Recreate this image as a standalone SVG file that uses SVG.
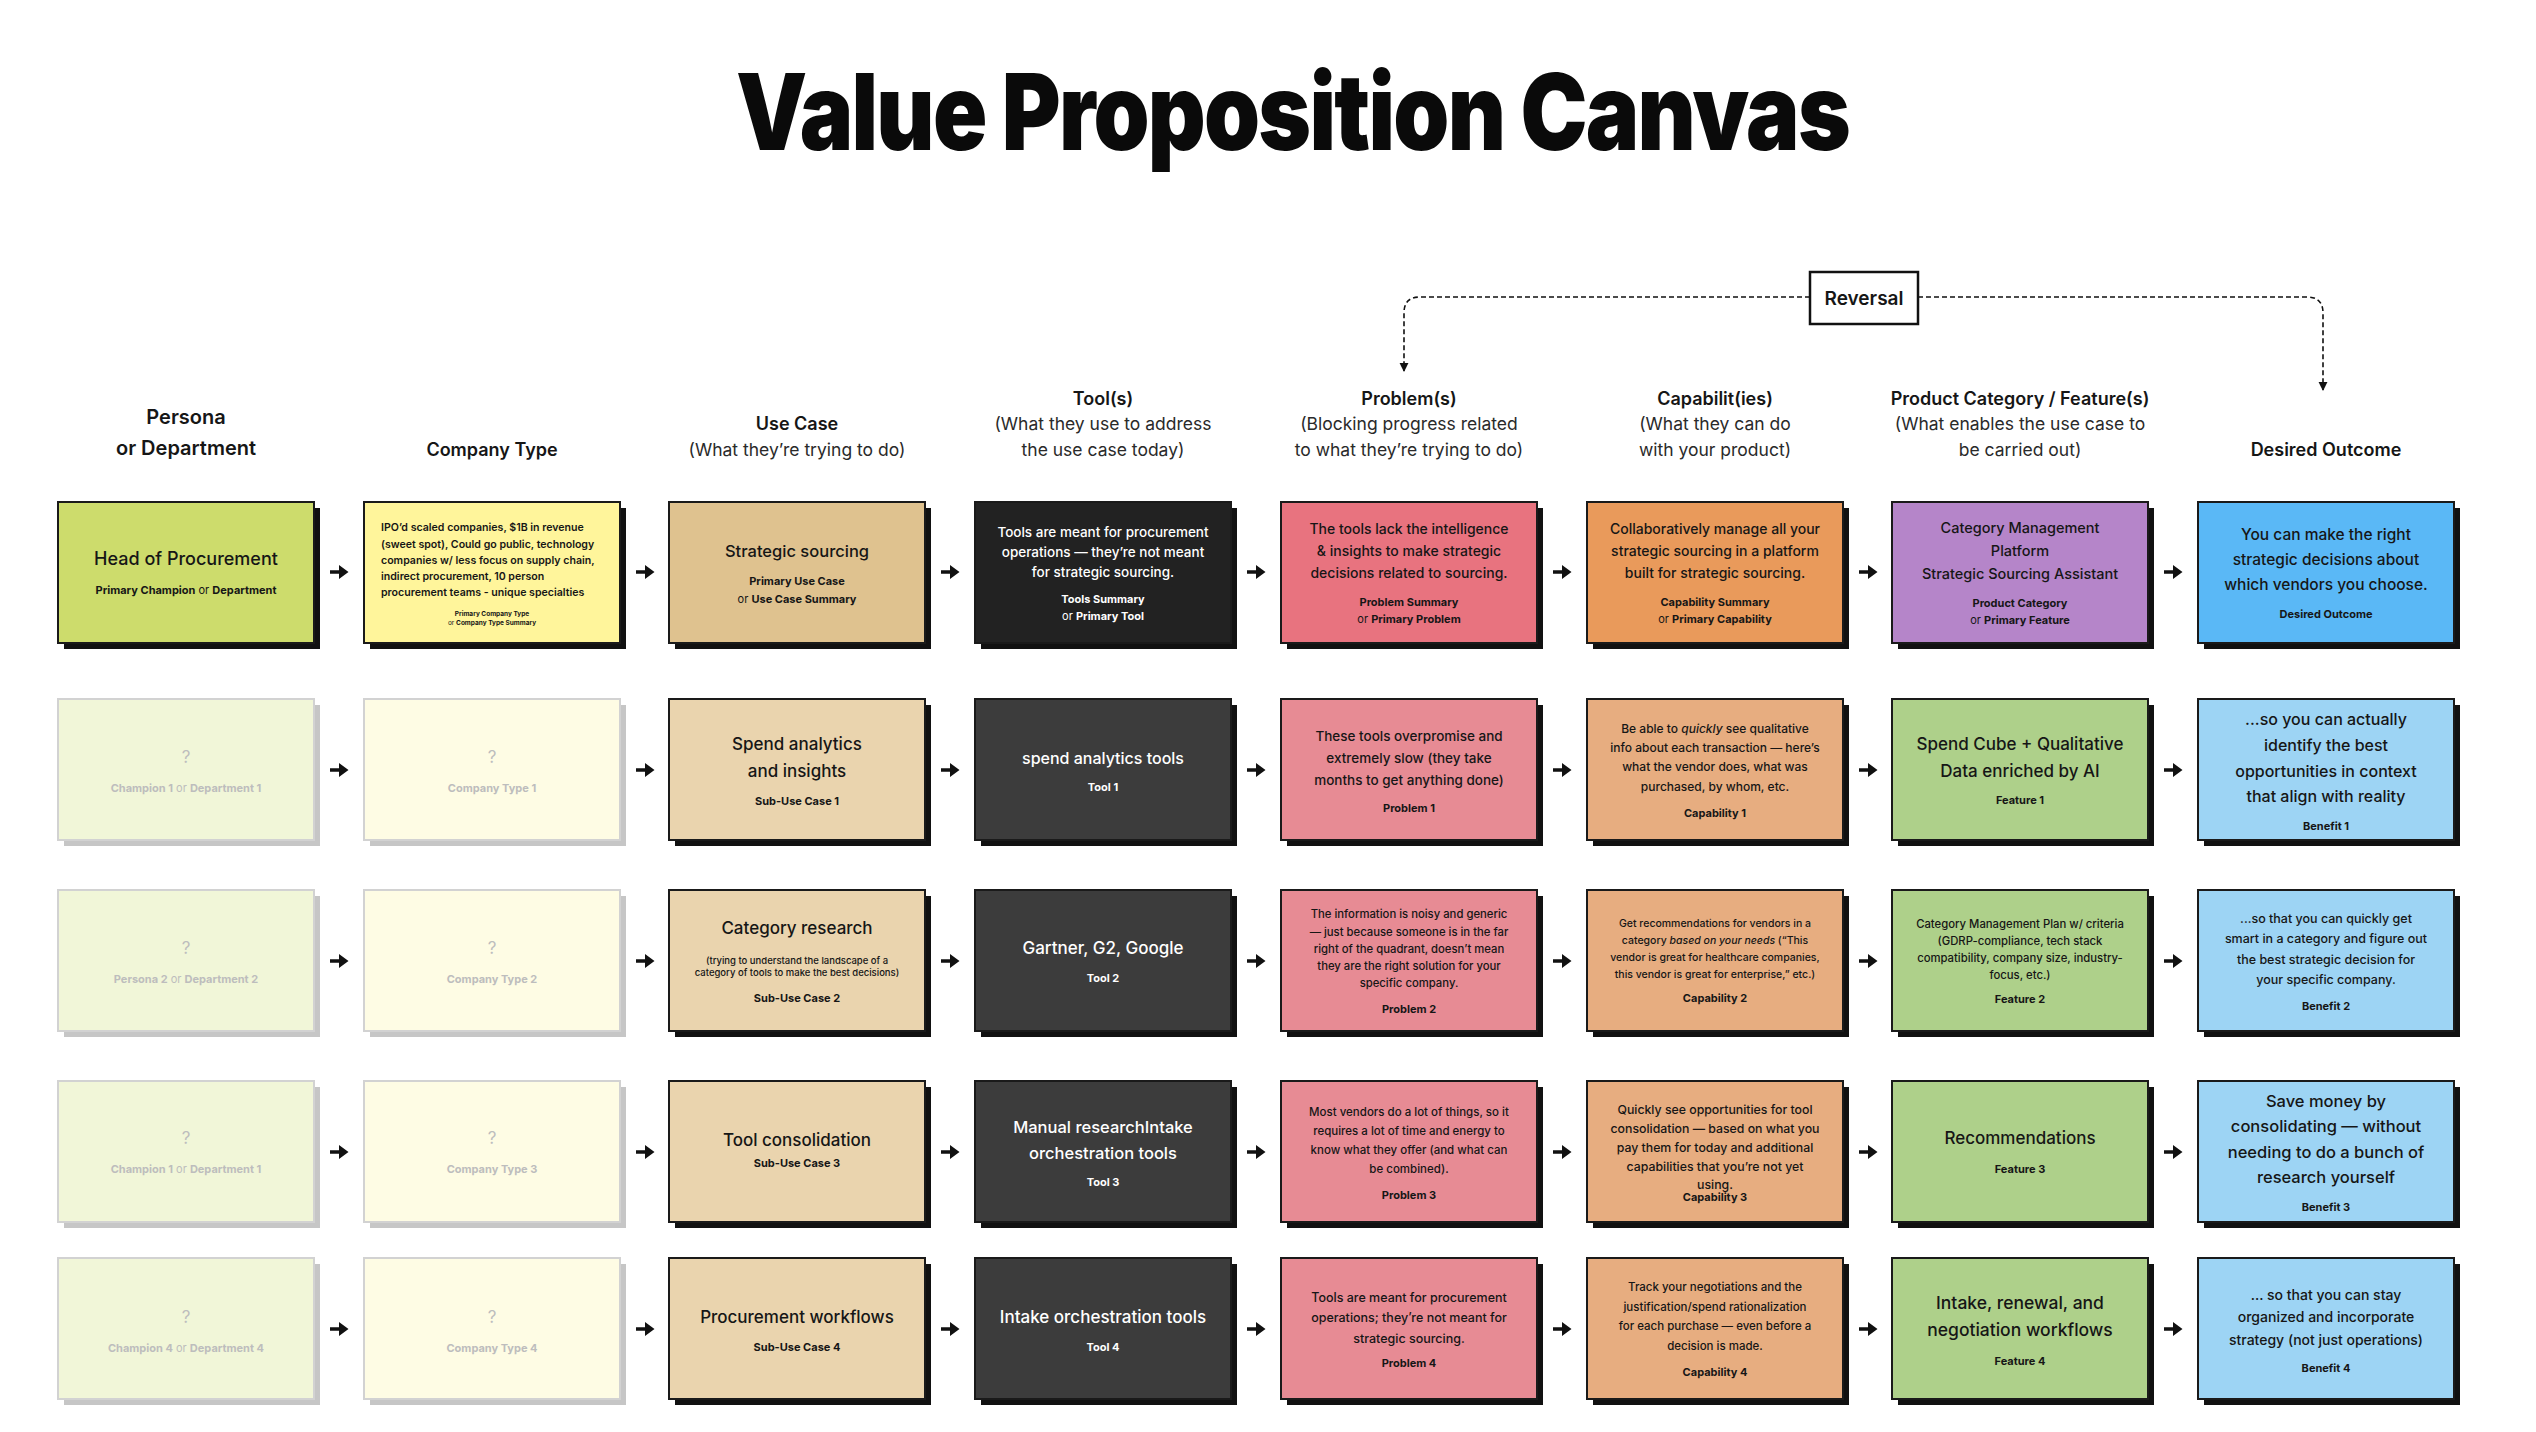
<svg xmlns="http://www.w3.org/2000/svg" width="2536" height="1432" viewBox="0 0 2536 1432">
<style>
text { font-family: Inter, "Liberation Sans", sans-serif; }
.c { text-anchor: middle; fill: #161616; }
.m { font-weight: 500; }
.b { font-weight: 700; }
.sb { font-weight: 600; }
.o { font-weight: 400; }
.w { fill: #ffffff; }
.g { fill: #bdbdbd; }
.sh { fill: #111111; }
.fsh { fill: #c6c6c6; }
.cd { stroke: #1a1a1a; stroke-width: 2; }
.fcd { stroke: #d2d2d2; stroke-width: 2; }
.hd { font-size: 18px; font-weight: 600; }
.hp { font-size: 17.5px; font-weight: 400; fill: #2a2a2a; }
.lbl { font-size: 11px; font-weight: 700; }
.dash { fill: none; stroke: #111; stroke-width: 1.6; stroke-dasharray: 5 3; }
</style>
<defs>
<path id="a" d="M-9,-1.8 H0 V-7 L9.5,0 L0,7 V1.8 H-9 Z" fill="#111"/>
<marker id="ah" viewBox="0 0 10 10" refX="9" refY="5" markerWidth="9" markerHeight="10" markerUnits="userSpaceOnUse" orient="auto"><path d="M0,0 L10,5 L0,10 z" fill="#111"/></marker>
</defs>
<rect width="2536" height="1432" fill="#ffffff"/>

<text id="title" x="736" y="150" font-size="106" font-weight="900" letter-spacing="-2" textLength="1113" lengthAdjust="spacingAndGlyphs" fill="#0a0a0a">Value Proposition Canvas</text>

<g id="headers">
<text class="c" x="186" y="424" font-size="20" font-weight="600">Persona</text>
<text class="c" x="186" y="455" font-size="20" font-weight="600">or Department</text>
<text class="c hd" x="492" y="456">Company Type</text>
<text class="c hd" x="797" y="430">Use Case</text>
<text class="c hp" x="797" y="456">(What they’re trying to do)</text>
<text class="c hd" x="1103" y="405">Tool(s)</text>
<text class="c hp" x="1103" y="430">(What they use to address</text>
<text class="c hp" x="1103" y="456">the use case today)</text>
<text class="c hd" x="1409" y="405">Problem(s)</text>
<text class="c hp" x="1409" y="430">(Blocking progress related</text>
<text class="c hp" x="1409" y="456">to what they’re trying to do)</text>
<text class="c hd" x="1715" y="405">Capabilit(ies)</text>
<text class="c hp" x="1715" y="430">(What they can do</text>
<text class="c hp" x="1715" y="456">with your product)</text>
<text class="c hd" x="2020" y="405">Product Category / Feature(s)</text>
<text class="c hp" x="2020" y="430">(What enables the use case to</text>
<text class="c hp" x="2020" y="456">be carried out)</text>
<text class="c hd" x="2326" y="456">Desired Outcome</text>
</g>

<g id="reversal">
<rect x="1810" y="272" width="108" height="52" fill="#ffffff" stroke="#111" stroke-width="2.5"/>
<text class="c" x="1864" y="305" font-size="19" font-weight="600">Reversal</text>
</g>

<g id="connectors">
<path class="dash" d="M1810,297 H1420 Q1404,297 1404,313 V371" marker-end="url(#ah)"/>
<path class="dash" d="M1918,297 H2307 Q2323,297 2323,313 V390" marker-end="url(#ah)"/>
<use href="#a" x="339" y="572"/><use href="#a" x="645" y="572"/><use href="#a" x="950" y="572"/><use href="#a" x="1256" y="572"/><use href="#a" x="1562" y="572"/><use href="#a" x="1868" y="572"/><use href="#a" x="2173" y="572"/>
<use href="#a" x="339" y="770"/><use href="#a" x="645" y="770"/><use href="#a" x="950" y="770"/><use href="#a" x="1256" y="770"/><use href="#a" x="1562" y="770"/><use href="#a" x="1868" y="770"/><use href="#a" x="2173" y="770"/>
<use href="#a" x="339" y="961"/><use href="#a" x="645" y="961"/><use href="#a" x="950" y="961"/><use href="#a" x="1256" y="961"/><use href="#a" x="1562" y="961"/><use href="#a" x="1868" y="961"/><use href="#a" x="2173" y="961"/>
<use href="#a" x="339" y="1152"/><use href="#a" x="645" y="1152"/><use href="#a" x="950" y="1152"/><use href="#a" x="1256" y="1152"/><use href="#a" x="1562" y="1152"/><use href="#a" x="1868" y="1152"/><use href="#a" x="2173" y="1152"/>
<use href="#a" x="339" y="1329"/><use href="#a" x="645" y="1329"/><use href="#a" x="950" y="1329"/><use href="#a" x="1256" y="1329"/><use href="#a" x="1562" y="1329"/><use href="#a" x="1868" y="1329"/><use href="#a" x="2173" y="1329"/>
</g>

<!-- Row 1 -->
<g id="r1c1">
<rect class="sh" x="64" y="508" width="256" height="141"/>
<rect class="cd" x="58" y="502" width="256" height="141" fill="#cddc6c"/>
<text class="c m" x="186" y="565" font-size="18">Head of Procurement</text>
<text class="c lbl" x="186" y="594"><tspan>Primary Champion</tspan><tspan class="o"> or </tspan><tspan>Department</tspan></text>
</g>
<g id="r1c2">
<rect class="sh" x="370" y="508" width="256" height="141"/>
<rect class="cd" x="364" y="502" width="256" height="141" fill="#fff59b"/>
<text x="381" font-size="10.6" font-weight="600" fill="#161616"><tspan x="381" y="531">IPO’d scaled companies, $1B in revenue</tspan><tspan x="381" y="548">(sweet spot), Could go public, technology</tspan><tspan x="381" y="564">companies w/ less focus on supply chain,</tspan><tspan x="381" y="580">indirect procurement, 10 person</tspan><tspan x="381" y="596">procurement teams - unique specialties</tspan></text>
<text class="c b" x="492" y="616" font-size="6.5">Primary Company Type</text>
<text class="c b" x="492" y="624.5" font-size="6.5"><tspan class="o">or </tspan>Company Type Summary</text>
</g>
<g id="r1c3">
<rect class="sh" x="675" y="508" width="256" height="141"/>
<rect class="cd" x="669" y="502" width="256" height="141" fill="#dfc28f"/>
<text class="c m" x="797" y="557" font-size="16.5">Strategic sourcing</text>
<text class="c lbl" x="797" y="585" font-size="11.5">Primary Use Case</text>
<text class="c lbl" x="797" y="603" font-size="11.5"><tspan class="o">or </tspan>Use Case Summary</text>
</g>
<g id="r1c4">
<rect class="sh" x="981" y="508" width="256" height="141"/>
<rect class="cd" x="975" y="502" width="256" height="141" fill="#222222"/>
<text class="c m w" x="1103" y="537" font-size="13.5">Tools are meant for procurement</text>
<text class="c m w" x="1103" y="557" font-size="13.5">operations — they’re not meant</text>
<text class="c m w" x="1103" y="577" font-size="13.5">for strategic sourcing.</text>
<text class="c lbl w" x="1103" y="603">Tools Summary</text>
<text class="c lbl w" x="1103" y="620"><tspan class="o">or </tspan>Primary Tool</text>
</g>
<g id="r1c5">
<rect class="sh" x="1287" y="508" width="256" height="141"/>
<rect class="cd" x="1281" y="502" width="256" height="141" fill="#e8737f"/>
<text class="c m" x="1409" y="534" font-size="14">The tools lack the intelligence</text>
<text class="c m" x="1409" y="556" font-size="14">&amp; insights to make strategic</text>
<text class="c m" x="1409" y="578" font-size="14">decisions related to sourcing.</text>
<text class="c lbl" x="1409" y="606">Problem Summary</text>
<text class="c lbl" x="1409" y="623"><tspan class="o">or </tspan>Primary Problem</text>
</g>
<g id="r1c6">
<rect class="sh" x="1593" y="508" width="256" height="141"/>
<rect class="cd" x="1587" y="502" width="256" height="141" fill="#e99a5b"/>
<text class="c m" x="1715" y="534" font-size="14">Collaboratively manage all your</text>
<text class="c m" x="1715" y="556" font-size="14">strategic sourcing in a platform</text>
<text class="c m" x="1715" y="578" font-size="14">built for strategic sourcing.</text>
<text class="c lbl" x="1715" y="606">Capability Summary</text>
<text class="c lbl" x="1715" y="623"><tspan class="o">or </tspan>Primary Capability</text>
</g>
<g id="r1c7">
<rect class="sh" x="1898" y="508" width="256" height="141"/>
<rect class="cd" x="1892" y="502" width="256" height="141" fill="#b585c9"/>
<text class="c m" x="2020" y="533" font-size="14.5">Category Management</text>
<text class="c m" x="2020" y="556" font-size="14.5">Platform</text>
<text class="c m" x="2020" y="579" font-size="14.5">Strategic Sourcing Assistant</text>
<text class="c lbl" x="2020" y="607">Product Category</text>
<text class="c lbl" x="2020" y="624"><tspan class="o">or </tspan>Primary Feature</text>
</g>
<g id="r1c8">
<rect class="sh" x="2204" y="508" width="256" height="141"/>
<rect class="cd" x="2198" y="502" width="256" height="141" fill="#5ab8f6"/>
<text class="c m" x="2326" y="540" font-size="15.5">You can make the right</text>
<text class="c m" x="2326" y="565" font-size="15.5">strategic decisions about</text>
<text class="c m" x="2326" y="590" font-size="15.5">which vendors you choose.</text>
<text class="c lbl" x="2326" y="618">Desired Outcome</text>
</g>

<!-- Row 2 -->
<g id="r2c1">
<rect class="fsh" x="64" y="705" width="256" height="141"/>
<rect class="fcd" x="58" y="699" width="256" height="141" fill="#f1f6d8"/>
<text class="c g" x="186" y="763" font-size="17">?</text>
<text class="c lbl g" x="186" y="792">Champion 1<tspan class="o"> or </tspan>Department 1</text>
</g>
<g id="r2c2">
<rect class="fsh" x="370" y="705" width="256" height="141"/>
<rect class="fcd" x="364" y="699" width="256" height="141" fill="#fefce4"/>
<text class="c g" x="492" y="763" font-size="17">?</text>
<text class="c lbl g" x="492" y="792">Company Type 1</text>
</g>
<g id="r2c3">
<rect class="sh" x="675" y="705" width="256" height="141"/>
<rect class="cd" x="669" y="699" width="256" height="141" fill="#ead4ae"/>
<text class="c m" x="797" y="750" font-size="17">Spend analytics</text>
<text class="c m" x="797" y="777" font-size="17">and insights</text>
<text class="c lbl" x="797" y="805" font-size="10.5">Sub-Use Case 1</text>
</g>
<g id="r2c4">
<rect class="sh" x="981" y="705" width="256" height="141"/>
<rect class="cd" x="975" y="699" width="256" height="141" fill="#3c3c3c"/>
<text class="c m w" x="1103" y="764" font-size="16">spend analytics tools</text>
<text class="c lbl w" x="1103" y="791" font-size="10.5">Tool 1</text>
</g>
<g id="r2c5">
<rect class="sh" x="1287" y="705" width="256" height="141"/>
<rect class="cd" x="1281" y="699" width="256" height="141" fill="#e78b94"/>
<text class="c m" x="1409" y="741" font-size="13.5">These tools overpromise and</text>
<text class="c m" x="1409" y="763" font-size="13.5">extremely slow (they take</text>
<text class="c m" x="1409" y="785" font-size="13.5">months to get anything done)</text>
<text class="c lbl" x="1409" y="812" font-size="10.5">Problem 1</text>
</g>
<g id="r2c6">
<rect class="sh" x="1593" y="705" width="256" height="141"/>
<rect class="cd" x="1587" y="699" width="256" height="141" fill="#e7ad80"/>
<text class="c m" x="1715" y="733" font-size="12">Be able to <tspan font-style="italic">quickly</tspan> see qualitative</text>
<text class="c m" x="1715" y="752" font-size="12">info about each transaction — here’s</text>
<text class="c m" x="1715" y="771" font-size="12">what the vendor does, what was</text>
<text class="c m" x="1715" y="791" font-size="12">purchased, by whom, etc.</text>
<text class="c lbl" x="1715" y="817" font-size="10.5">Capability 1</text>
</g>
<g id="r2c7">
<rect class="sh" x="1898" y="705" width="256" height="141"/>
<rect class="cd" x="1892" y="699" width="256" height="141" fill="#aed08a"/>
<text class="c m" x="2020" y="750" font-size="17">Spend Cube + Qualitative</text>
<text class="c m" x="2020" y="777" font-size="17">Data enriched by AI</text>
<text class="c lbl" x="2020" y="804" font-size="10.5">Feature 1</text>
</g>
<g id="r2c8">
<rect class="sh" x="2204" y="705" width="256" height="141"/>
<rect class="cd" x="2198" y="699" width="256" height="141" fill="#9dd4f4"/>
<text class="c m" x="2326" y="725" font-size="16">...so you can actually</text>
<text class="c m" x="2326" y="751" font-size="16">identify the best</text>
<text class="c m" x="2326" y="777" font-size="16">opportunities in context</text>
<text class="c m" x="2326" y="802" font-size="16">that align with reality</text>
<text class="c lbl" x="2326" y="830" font-size="10.5">Benefit 1</text>
</g>

<!-- Row 3 -->
<g id="r3c1">
<rect class="fsh" x="64" y="896" width="256" height="141"/>
<rect class="fcd" x="58" y="890" width="256" height="141" fill="#f1f6d8"/>
<text class="c g" x="186" y="954" font-size="17">?</text>
<text class="c lbl g" x="186" y="983">Persona 2<tspan class="o"> or </tspan>Department 2</text>
</g>
<g id="r3c2">
<rect class="fsh" x="370" y="896" width="256" height="141"/>
<rect class="fcd" x="364" y="890" width="256" height="141" fill="#fefce4"/>
<text class="c g" x="492" y="954" font-size="17">?</text>
<text class="c lbl g" x="492" y="983">Company Type 2</text>
</g>
<g id="r3c3">
<rect class="sh" x="675" y="896" width="256" height="141"/>
<rect class="cd" x="669" y="890" width="256" height="141" fill="#ead4ae"/>
<text class="c m" x="797" y="934" font-size="17">Category research</text>
<text class="c m" x="797" y="963.5" font-size="9.5">(trying to understand the landscape of a</text>
<text class="c m" x="797" y="975.5" font-size="9.5">category of tools to make the best decisions)</text>
<text class="c lbl" x="797" y="1002" font-size="12">Sub-Use Case 2</text>
</g>
<g id="r3c4">
<rect class="sh" x="981" y="896" width="256" height="141"/>
<rect class="cd" x="975" y="890" width="256" height="141" fill="#3c3c3c"/>
<text class="c m w" x="1103" y="954" font-size="17">Gartner, G2, Google</text>
<text class="c lbl w" x="1103" y="982" font-size="10.5">Tool 2</text>
</g>
<g id="r3c5">
<rect class="sh" x="1287" y="896" width="256" height="141"/>
<rect class="cd" x="1281" y="890" width="256" height="141" fill="#e78b94"/>
<text class="c m" x="1409" y="918" font-size="11.3">The information is noisy and generic</text>
<text class="c m" x="1409" y="935.5" font-size="11.3">— just because someone is in the far</text>
<text class="c m" x="1409" y="952.5" font-size="11.3">right of the quadrant, doesn’t mean</text>
<text class="c m" x="1409" y="969.5" font-size="11.3">they are the right solution for your</text>
<text class="c m" x="1409" y="986.5" font-size="11.3">specific company.</text>
<text class="c lbl" x="1409" y="1013" font-size="10.5">Problem 2</text>
</g>
<g id="r3c6">
<rect class="sh" x="1593" y="896" width="256" height="141"/>
<rect class="cd" x="1587" y="890" width="256" height="141" fill="#e7ad80"/>
<text class="c m" x="1715" y="927" font-size="10.5">Get recommendations for vendors in a</text>
<text class="c m" x="1715" y="944" font-size="10.5">category <tspan font-style="italic">based on your needs</tspan> (“This</text>
<text class="c m" x="1715" y="961" font-size="10.5">vendor is great for healthcare companies,</text>
<text class="c m" x="1715" y="978" font-size="10.5">this vendor is great for enterprise,” etc.)</text>
<text class="c lbl" x="1715" y="1002" font-size="12">Capability 2</text>
</g>
<g id="r3c7">
<rect class="sh" x="1898" y="896" width="256" height="141"/>
<rect class="cd" x="1892" y="890" width="256" height="141" fill="#aed08a"/>
<text class="c m" x="2020" y="927.5" font-size="11.3">Category Management Plan w/ criteria</text>
<text class="c m" x="2020" y="944.5" font-size="11.3">(GDRP-compliance, tech stack</text>
<text class="c m" x="2020" y="961.5" font-size="11.3">compatibility, company size, industry-</text>
<text class="c m" x="2020" y="978.5" font-size="11.3">focus, etc.)</text>
<text class="c lbl" x="2020" y="1003" font-size="12">Feature 2</text>
</g>
<g id="r3c8">
<rect class="sh" x="2204" y="896" width="256" height="141"/>
<rect class="cd" x="2198" y="890" width="256" height="141" fill="#9dd4f4"/>
<text class="c m" x="2326" y="922.5" font-size="12.5">...so that you can quickly get</text>
<text class="c m" x="2326" y="943" font-size="12.5">smart in a category and figure out</text>
<text class="c m" x="2326" y="963.5" font-size="12.5">the best strategic decision for</text>
<text class="c m" x="2326" y="984" font-size="12.5">your specific company.</text>
<text class="c lbl" x="2326" y="1010" font-size="10.5">Benefit 2</text>
</g>

<!-- Row 4 -->
<g id="r4c1">
<rect class="fsh" x="64" y="1087" width="256" height="141"/>
<rect class="fcd" x="58" y="1081" width="256" height="141" fill="#f1f6d8"/>
<text class="c g" x="186" y="1144" font-size="17">?</text>
<text class="c lbl g" x="186" y="1173">Champion 1<tspan class="o"> or </tspan>Department 1</text>
</g>
<g id="r4c2">
<rect class="fsh" x="370" y="1087" width="256" height="141"/>
<rect class="fcd" x="364" y="1081" width="256" height="141" fill="#fefce4"/>
<text class="c g" x="492" y="1144" font-size="17">?</text>
<text class="c lbl g" x="492" y="1173">Company Type 3</text>
</g>
<g id="r4c3">
<rect class="sh" x="675" y="1087" width="256" height="141"/>
<rect class="cd" x="669" y="1081" width="256" height="141" fill="#ead4ae"/>
<text class="c m" x="797" y="1146" font-size="17">Tool consolidation</text>
<text class="c lbl" x="797" y="1167" font-size="10.5">Sub-Use Case 3</text>
</g>
<g id="r4c4">
<rect class="sh" x="981" y="1087" width="256" height="141"/>
<rect class="cd" x="975" y="1081" width="256" height="141" fill="#3c3c3c"/>
<text class="c m w" x="1103" y="1133" font-size="16.5">Manual researchIntake</text>
<text class="c m w" x="1103" y="1159" font-size="16.5">orchestration tools</text>
<text class="c lbl w" x="1103" y="1186" font-size="10.5">Tool 3</text>
</g>
<g id="r4c5">
<rect class="sh" x="1287" y="1087" width="256" height="141"/>
<rect class="cd" x="1281" y="1081" width="256" height="141" fill="#e78b94"/>
<text class="c m" x="1409" y="1116" font-size="11.5">Most vendors do a lot of things, so it</text>
<text class="c m" x="1409" y="1135" font-size="11.5">requires a lot of time and energy to</text>
<text class="c m" x="1409" y="1154" font-size="11.5">know what they offer (and what can</text>
<text class="c m" x="1409" y="1173" font-size="11.5">be combined).</text>
<text class="c lbl" x="1409" y="1199" font-size="10.5">Problem 3</text>
</g>
<g id="r4c6">
<rect class="sh" x="1593" y="1087" width="256" height="141"/>
<rect class="cd" x="1587" y="1081" width="256" height="141" fill="#e7ad80"/>
<text class="c m" x="1715" y="1113.5" font-size="12.3">Quickly see opportunities for tool</text>
<text class="c m" x="1715" y="1132.5" font-size="12.3">consolidation — based on what you</text>
<text class="c m" x="1715" y="1151.5" font-size="12.3">pay them for today and additional</text>
<text class="c m" x="1715" y="1171" font-size="12.3">capabilities that you’re not yet</text>
<text class="c m" x="1715" y="1188.5" font-size="12.3">using.</text>
<text class="c lbl" x="1715" y="1201" font-size="10.5">Capability 3</text>
</g>
<g id="r4c7">
<rect class="sh" x="1898" y="1087" width="256" height="141"/>
<rect class="cd" x="1892" y="1081" width="256" height="141" fill="#aed08a"/>
<text class="c m" x="2020" y="1144" font-size="17">Recommendations</text>
<text class="c lbl" x="2020" y="1173" font-size="10.5">Feature 3</text>
</g>
<g id="r4c8">
<rect class="sh" x="2204" y="1087" width="256" height="141"/>
<rect class="cd" x="2198" y="1081" width="256" height="141" fill="#9dd4f4"/>
<text class="c m" x="2326" y="1107" font-size="16.5">Save money by</text>
<text class="c m" x="2326" y="1132" font-size="16.5">consolidating — without</text>
<text class="c m" x="2326" y="1158" font-size="16.5">needing to do a bunch of</text>
<text class="c m" x="2326" y="1183" font-size="16.5">research yourself</text>
<text class="c lbl" x="2326" y="1211" font-size="10.5">Benefit 3</text>
</g>

<!-- Row 5 -->
<g id="r5c1">
<rect class="fsh" x="64" y="1264" width="256" height="141"/>
<rect class="fcd" x="58" y="1258" width="256" height="141" fill="#f1f6d8"/>
<text class="c g" x="186" y="1323" font-size="17">?</text>
<text class="c lbl g" x="186" y="1352">Champion 4<tspan class="o"> or </tspan>Department 4</text>
</g>
<g id="r5c2">
<rect class="fsh" x="370" y="1264" width="256" height="141"/>
<rect class="fcd" x="364" y="1258" width="256" height="141" fill="#fefce4"/>
<text class="c g" x="492" y="1323" font-size="17">?</text>
<text class="c lbl g" x="492" y="1352">Company Type 4</text>
</g>
<g id="r5c3">
<rect class="sh" x="675" y="1264" width="256" height="141"/>
<rect class="cd" x="669" y="1258" width="256" height="141" fill="#ead4ae"/>
<text class="c m" x="797" y="1323" font-size="17">Procurement workflows</text>
<text class="c lbl" x="797" y="1351" font-size="10.5">Sub-Use Case 4</text>
</g>
<g id="r5c4">
<rect class="sh" x="981" y="1264" width="256" height="141"/>
<rect class="cd" x="975" y="1258" width="256" height="141" fill="#3c3c3c"/>
<text class="c m w" x="1103" y="1323" font-size="17">Intake orchestration tools</text>
<text class="c lbl w" x="1103" y="1351" font-size="10.5">Tool 4</text>
</g>
<g id="r5c5">
<rect class="sh" x="1287" y="1264" width="256" height="141"/>
<rect class="cd" x="1281" y="1258" width="256" height="141" fill="#e78b94"/>
<text class="c m" x="1409" y="1301.5" font-size="12.5">Tools are meant for procurement</text>
<text class="c m" x="1409" y="1321.5" font-size="12.5">operations; they’re not meant for</text>
<text class="c m" x="1409" y="1342.5" font-size="12.5">strategic sourcing.</text>
<text class="c lbl" x="1409" y="1367" font-size="10.5">Problem 4</text>
</g>
<g id="r5c6">
<rect class="sh" x="1593" y="1264" width="256" height="141"/>
<rect class="cd" x="1587" y="1258" width="256" height="141" fill="#e7ad80"/>
<text class="c m" x="1715" y="1291" font-size="11.5">Track your negotiations and the</text>
<text class="c m" x="1715" y="1311" font-size="11.5">justification/spend rationalization</text>
<text class="c m" x="1715" y="1330" font-size="11.5">for each purchase — even before a</text>
<text class="c m" x="1715" y="1350" font-size="11.5">decision is made.</text>
<text class="c lbl" x="1715" y="1376" font-size="10.5">Capability 4</text>
</g>
<g id="r5c7">
<rect class="sh" x="1898" y="1264" width="256" height="141"/>
<rect class="cd" x="1892" y="1258" width="256" height="141" fill="#aed08a"/>
<text class="c m" x="2020" y="1309" font-size="17.5">Intake, renewal, and</text>
<text class="c m" x="2020" y="1336" font-size="17.5">negotiation workflows</text>
<text class="c lbl" x="2020" y="1365" font-size="10.5">Feature 4</text>
</g>
<g id="r5c8">
<rect class="sh" x="2204" y="1264" width="256" height="141"/>
<rect class="cd" x="2198" y="1258" width="256" height="141" fill="#9dd4f4"/>
<text class="c m" x="2326" y="1300" font-size="14">... so that you can stay</text>
<text class="c m" x="2326" y="1322" font-size="14">organized and incorporate</text>
<text class="c m" x="2326" y="1345" font-size="14">strategy (not just operations)</text>
<text class="c lbl" x="2326" y="1372" font-size="10.5">Benefit 4</text>
</g>
</svg>
